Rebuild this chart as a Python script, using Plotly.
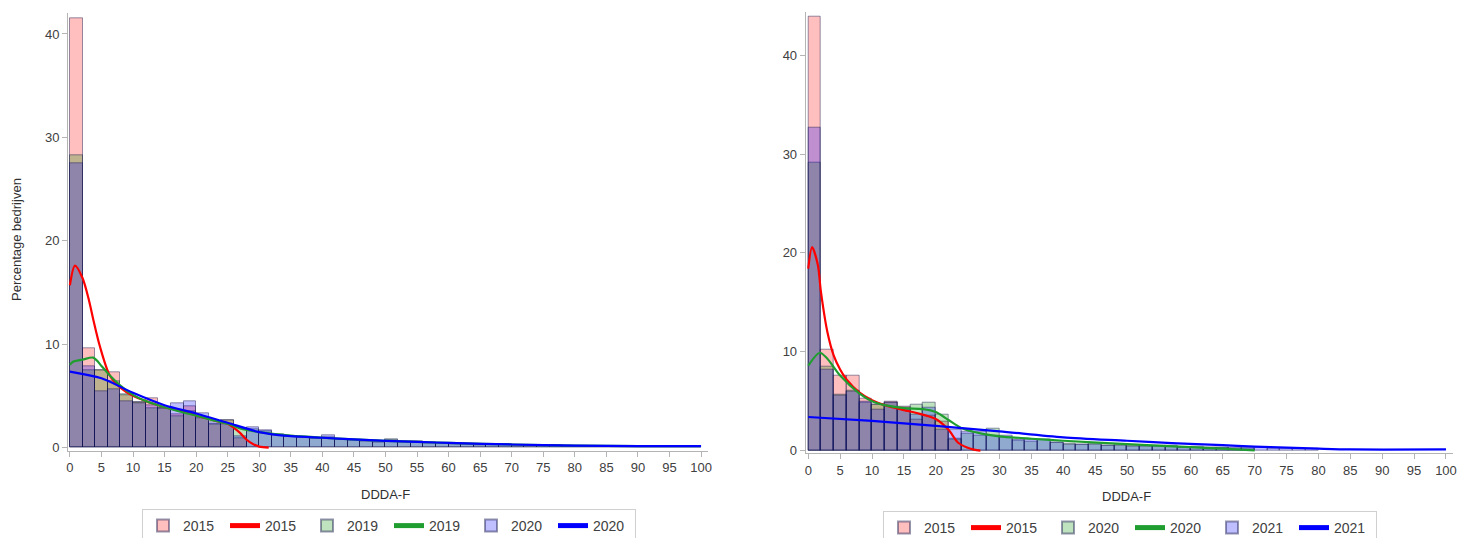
import plotly.graph_objects as go

# ---------------- data ----------------
BIN_W = 2
x_ticks = list(range(0, 101, 5))
y_ticks = [0, 10, 20, 30, 40]

# Left panel histograms (percentage per bin of width 2, starting at 0)
L_hist_2015 = [41.5, 9.6, 7.5, 7.3, 5.1, 4.4, 4.8, 3.8, 3.2, 4.0, 2.8, 2.3, 2.6, 0.9]
L_hist_2019 = [28.3, 7.5, 7.5, 6.4, 5.2, 4.4, 3.8, 3.8, 3.0, 3.5, 2.9, 2.3, 2.6, 1.9, 1.8,
               1.6, 1.2, 1.1, 1.0, 0.9, 1.0, 0.8, 0.7, 0.6, 0.5, 0.8, 0.6, 0.65, 0.5, 0.4,
               0.4, 0.3, 0.3, 0.3, 0.35, 0.2, 0.2, 0.2, 0.2, 0.15, 0.1, 0.1, 0.1, 0.1, 0.1,
               0.1, 0.1, 0.1, 0.15, 0.1]
L_hist_2020 = [27.5, 7.9, 5.4, 5.6, 4.5, 4.3, 4.1, 3.8, 4.3, 4.5, 3.3, 2.4, 2.3, 1.1, 2.0,
               1.7, 1.3, 1.1, 1.0, 0.9, 1.2, 0.8, 0.7, 0.6, 0.5, 0.7, 0.55, 0.5, 0.45, 0.4,
               0.35, 0.3, 0.25, 0.3, 0.35, 0.2, 0.2, 0.2, 0.25, 0.15, 0.15, 0.15, 0.1, 0.1,
               0.1, 0.1, 0.1, 0.1, 0.15, 0.1]

# Left panel density curves
L_kde_2015_x = [0, 0.8, 2, 3, 3.7, 4.75, 6.3, 8, 10, 12, 15, 18, 20, 23, 25, 26.4, 27, 28, 29, 30, 31.5]
L_kde_2015_y = [15.7, 17.6, 16.4, 14.3, 12.4, 9.8, 7.0, 5.8, 5.0, 4.5, 3.9, 3.5, 3.1, 2.6, 2.3, 1.72, 1.4, 0.76, 0.35, 0.1, 0]
L_kde_2019_x = [0, 0.5, 2, 3.7, 5, 6, 8, 10, 12, 15, 18, 20, 23, 25, 26, 27, 28, 30, 35, 40, 45,
                50, 55, 60, 70, 80, 90, 100]
L_kde_2019_y = [8.0, 8.3, 8.5, 8.7, 7.9, 7.2, 6.0, 5.1, 4.5, 3.9, 3.4, 3.1, 2.6, 2.3, 2.1, 1.85,
                1.7, 1.5, 1.15, 0.95, 0.8, 0.65, 0.55, 0.45, 0.3, 0.2, 0.15, 0.15]
L_kde_2020_x = [0, 5, 10, 15, 20, 25, 30, 35, 40, 45, 50, 55, 60, 70, 80, 90, 100]
L_kde_2020_y = [7.35, 6.7, 5.3, 4.1, 3.3, 2.4, 1.5, 1.1, 0.95, 0.8, 0.65, 0.55, 0.45, 0.3, 0.2, 0.15, 0.15]

# Right panel histograms
R_hist_2015 = [43.9, 10.2, 7.6, 7.6, 5.3, 4.6, 4.9, 4.4, 3.1, 3.5, 2.9, 1.1]
R_hist_2020 = [29.1, 8.5, 5.7, 6.1, 4.8, 4.6, 4.8, 4.3, 4.6, 4.8, 3.6, 1.2, 1.7, 1.5, 2.2,
               1.3, 1.0, 0.9, 1.1, 0.8, 0.7, 0.6, 0.7, 0.5, 0.6, 0.5, 0.45, 0.4, 0.5, 0.3,
               0.35, 0.3, 0.25, 0.2, 0.15]
R_hist_2021 = [32.7, 8.2, 5.6, 6.0, 5.0, 4.1, 4.8, 4.1, 3.6, 4.3, 2.1, 2.1, 1.9, 1.9, 1.5,
               1.5, 1.1, 1.1, 1.1, 0.8, 0.6, 0.6, 0.6, 0.5, 0.5, 0.4, 0.4, 0.45, 0.35, 0.3,
               0.3, 0.3, 0.25, 0.25, 0.3, 0.25, 0.2, 0.2, 0.2, 0.15]

# Right panel density curves
R_kde_2015_x = [0, 0.6, 1.5, 2, 3, 4, 5, 6, 8, 10, 12, 15, 17, 20, 22, 23.5, 25, 26, 27]
R_kde_2015_y = [18.4, 20.6, 18.8, 16.0, 12.0, 9.6, 8.2, 7.2, 5.9, 5.1, 4.6, 4.1, 3.8, 3.2, 2.1, 0.8, 0.3, 0.1, 0]
R_kde_2020_x = [0, 1.8, 3, 5, 8, 10, 12, 15, 18, 20, 22, 24, 27, 30, 35, 40, 50, 60, 65, 70]
R_kde_2020_y = [8.6, 9.9, 9.3, 7.6, 5.8, 5.0, 4.6, 4.3, 4.2, 3.9, 3.1, 2.3, 1.75, 1.45, 1.2,
                1.0, 0.65, 0.35, 0.2, 0.02]
R_kde_2021_x = [0, 10, 20, 30, 40, 50, 57, 65, 70, 75, 80, 85, 100]
R_kde_2021_y = [3.4, 3.0, 2.5, 1.95, 1.35, 1.0, 0.75, 0.55, 0.4, 0.3, 0.2, 0.12, 0.12]

# ---------------- styling ----------------
FONT = "Arial, Liberation Sans, sans-serif"
FILL = {"red": "rgba(255,0,0,0.25)", "green": "rgba(0,140,0,0.25)", "blue": "rgba(0,0,255,0.25)"}
LINE = {"red": "#ff0000", "green": "#1f9e2f", "blue": "#0000ff"}
OUTLINE = "rgba(20,20,70,0.45)"

# body margin is removed by a post script, so the figure fills the window
W, H = 1460, 538


def px(x):  # screen x -> paper fraction
    return x / W


def py(y):  # screen y -> paper fraction
    return (H - y) / H


def centers(vals):
    return [BIN_W / 2 + BIN_W * i for i in range(len(vals))]


fig = go.Figure()


def add_panel(hists, kdes, labels, xa, ya, legend):
    cols = ["red", "green", "blue"]
    for vals, (kx, ky), lab, c in zip(hists, kdes, labels, cols):
        fig.add_trace(go.Bar(x=centers(vals), y=vals, width=BIN_W, name=lab,
                             marker=dict(color=FILL[c], line=dict(color=OUTLINE, width=1)),
                             xaxis=xa, yaxis=ya, legend=legend, hoverinfo="skip"))
        fig.add_trace(go.Scatter(x=kx, y=ky, mode="lines", name=lab,
                                 line=dict(color=LINE[c], width=2.2, shape="spline", smoothing=0.8),
                                 xaxis=xa, yaxis=ya, legend=legend, hoverinfo="skip"))


add_panel([L_hist_2015, L_hist_2019, L_hist_2020],
          [(L_kde_2015_x, L_kde_2015_y), (L_kde_2019_x, L_kde_2019_y), (L_kde_2020_x, L_kde_2020_y)],
          ["2015", "2019", "2020"], "x", "y", "legend")
add_panel([R_hist_2015, R_hist_2020, R_hist_2021],
          [(R_kde_2015_x, R_kde_2015_y), (R_kde_2020_x, R_kde_2020_y), (R_kde_2021_x, R_kde_2021_y)],
          ["2015", "2020", "2021"], "x2", "y2", "legend2")

axis_common = dict(showline=True, linecolor="#b4b4b4", linewidth=1, ticks="outside",
                   tickcolor="#b4b4b4", ticklen=5, showgrid=False, zeroline=False,
                   automargin=False,
                   tickfont=dict(family=FONT, size=13, color="#404040"))

legend_common = dict(orientation="h", bordercolor="#d0d0d0", borderwidth=1, bgcolor="white",
                     font=dict(family=FONT, size=14, color="#404040"), xanchor="center",
                     yanchor="middle", traceorder="normal", itemsizing="constant",
                     entrywidth=37, entrywidthmode="pixels")

title_font = dict(family=FONT, size=13, color="#303030")

fig.update_layout(
    width=W, height=H, paper_bgcolor="white", plot_bgcolor="white",
    margin=dict(l=0, r=0, t=0, b=0, autoexpand=False), barmode="overlay", bargap=0,
    font=dict(family=FONT),
    xaxis=dict(domain=[px(68.0), px(708.0)], range=[-0.3, 101.1], tickvals=x_ticks,
               anchor="y", **axis_common),
    yaxis=dict(domain=[py(450.7), py(13.3)], range=[-0.3, 42.0],
               tickvals=y_ticks, anchor="x", **axis_common),
    xaxis2=dict(domain=[px(805.7), px(1453.0)], range=[-0.4, 101.1], tickvals=x_ticks,
                anchor="y2", **axis_common),
    yaxis2=dict(domain=[py(453.3), py(11.7)], range=[-0.27, 44.4],
                tickvals=y_ticks, anchor="x2", **axis_common),
    legend=dict(x=px(389), y=py(526), **legend_common),
    legend2=dict(x=px(1130), y=py(528), **legend_common),
    showlegend=True,
    annotations=[
        dict(text="Percentage bedrijven", xref="paper", yref="paper", x=px(16), y=py(240),
             xanchor="center", yanchor="middle", textangle=-90, showarrow=False, font=title_font),
        dict(text="DDDA-F", xref="paper", yref="paper", x=px(385), y=py(494),
             xanchor="center", yanchor="middle", showarrow=False, font=title_font),
        dict(text="DDDA-F", xref="paper", yref="paper", x=px(1126), y=py(496),
             xanchor="center", yanchor="middle", showarrow=False, font=title_font),
    ],
)

fig.write_html("out.html", config={"displayModeBar": False},
               post_script="document.body.style.margin='0';document.body.style.overflow='hidden';")
